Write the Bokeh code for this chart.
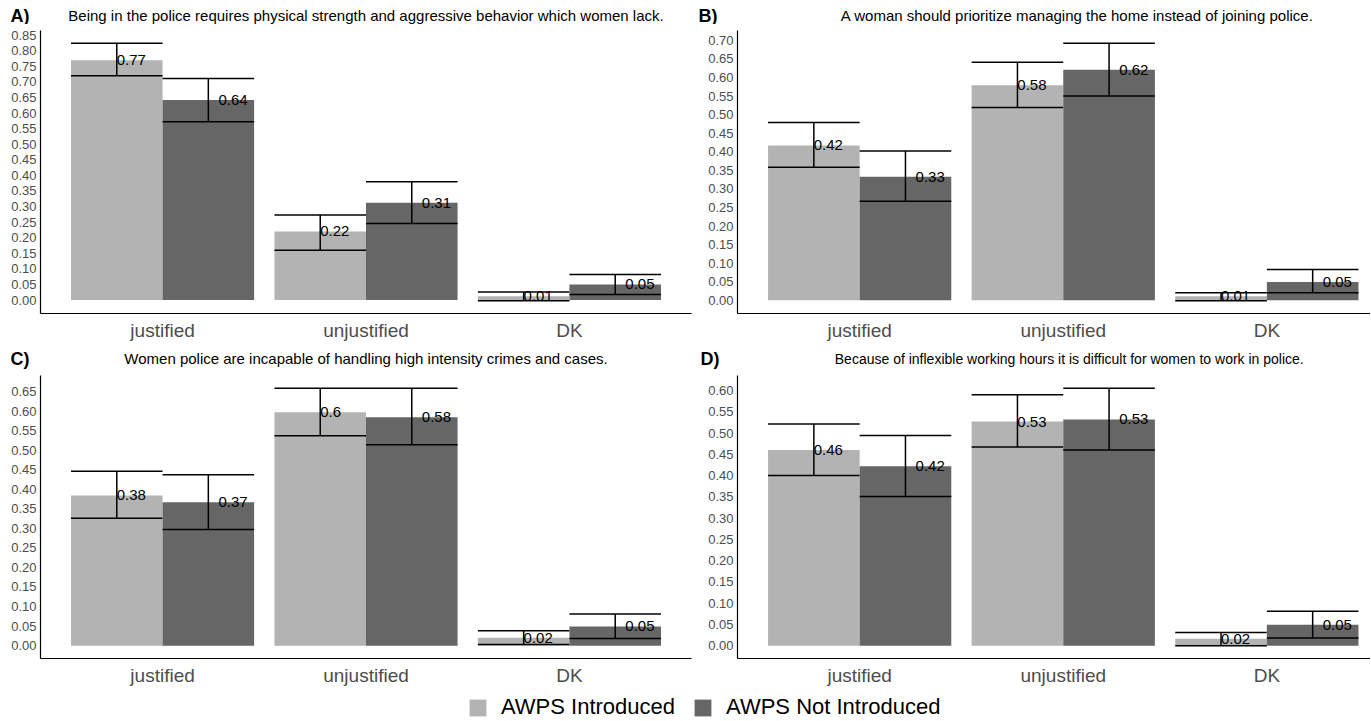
import numpy as np
from bokeh.plotting import figure
from bokeh.models import (Range1d, FixedTicker, PrintfTickFormatter, Label,
                          ColumnDataSource, Legend, LegendItem)
from bokeh.core.properties import value
from bokeh.transform import dodge
from bokeh.layouts import column, row
from bokeh.embed import file_html
from bokeh.resources import INLINE

# ---------------- data ----------------
categories = ["justified", "unjustified", "DK"]
groups = ["AWPS Introduced", "AWPS Not Introduced"]

tags = ["A)", "B)", "C)", "D)"]
subtitles = [
    "Being in the police requires physical strength and aggressive behavior which women lack.",
    "A woman should prioritize managing the home instead of joining police.",
    "Women police are incapable of handling high intensity crimes and cases.",
    "Because of inflexible working hours it is difficult for women to work in police.",
]

# panel A
a_intro    = [0.770, 0.220, 0.012]
a_intro_lo = [0.720, 0.160, -0.002]
a_intro_hi = [0.824, 0.273, 0.026]
a_not      = [0.642, 0.312, 0.050]
a_not_lo   = [0.572, 0.246, 0.018]
a_not_hi   = [0.711, 0.380, 0.082]
# panel B
b_intro    = [0.417, 0.579, 0.011]
b_intro_lo = [0.358, 0.519, -0.001]
b_intro_hi = [0.479, 0.641, 0.020]
b_not      = [0.333, 0.621, 0.049]
b_not_lo   = [0.267, 0.550, 0.020]
b_not_hi   = [0.402, 0.692, 0.083]
# panel C
c_intro    = [0.384, 0.597, 0.020]
c_intro_lo = [0.326, 0.537, 0.003]
c_intro_hi = [0.446, 0.658, 0.038]
c_not      = [0.367, 0.584, 0.049]
c_not_lo   = [0.297, 0.514, 0.018]
c_not_hi   = [0.437, 0.658, 0.081]
# panel D
d_intro    = [0.460, 0.527, 0.016]
d_intro_lo = [0.400, 0.467, 0.000]
d_intro_hi = [0.521, 0.590, 0.031]
d_not      = [0.422, 0.532, 0.049]
d_not_lo   = [0.351, 0.460, 0.018]
d_not_hi   = [0.494, 0.605, 0.081]

# ---------------- style ----------------
FONT = "Liberation Sans"
FONT_VALUE = value(FONT)
LIGHT = "#B3B3B3"
DARK = "#666666"
AXIS_TXT = "#4D4D4D"
X_START = 0.4


def rlabel(v):
    return str(round(v, 2))


def make_panel(series, width, x_end, mb_left, mb_right, height, mb_top, mb_bottom):
    allv = [0.0]
    for vals, lo, hi in series:
        allv += list(lo) + list(hi) + list(vals)
    ymin, ymax = min(allv), max(allv)
    pad = 0.05 * (ymax - ymin)
    y0, y1 = ymin - pad, ymax + pad

    p = figure(width=width, height=height, output_backend="svg",
               toolbar_location=None,
               x_range=Range1d(X_START, x_end), y_range=Range1d(y0, y1),
               min_border_left=mb_left, min_border_right=mb_right,
               min_border_top=mb_top, min_border_bottom=mb_bottom)
    p.outline_line_color = None
    p.xgrid.visible = False
    p.ygrid.visible = False

    xi = list(range(1, len(categories) + 1))
    offsets = [-0.225, 0.225]
    text_offsets = [-0.25, 0.25]
    colors = [LIGHT, DARK]
    for (vals, lo, hi), off, toff, col in zip(series, offsets, text_offsets, colors):
        src = ColumnDataSource(dict(xi=xi, val=vals, lo=lo, hi=hi,
                                    lab=[rlabel(v) for v in vals]))
        p.vbar(x=dodge("xi", off), top="val", bottom=0, width=0.45,
               source=src, fill_color=col, line_color=None)
        p.segment(x0=dodge("xi", off), x1=dodge("xi", off), y0="lo", y1="hi",
                  source=src, line_color="black", line_width=1.5)
        p.segment(x0=dodge("xi", off - 0.225), x1=dodge("xi", off + 0.225),
                  y0="hi", y1="hi", source=src, line_color="black", line_width=1.5)
        p.segment(x0=dodge("xi", off - 0.225), x1=dodge("xi", off + 0.225),
                  y0="lo", y1="lo", source=src, line_color="black", line_width=1.5)
        p.text(x=dodge("xi", toff), y="val", text="lab", source=src,
               x_offset=5, text_align="left", text_baseline="alphabetic",
               text_font=FONT_VALUE, text_font_size="15px", text_color="black")

    p.xaxis.ticker = FixedTicker(ticks=xi)
    p.xaxis.major_label_overrides = {i: c for i, c in zip(xi, categories)}
    p.xaxis.major_label_text_font = FONT
    p.xaxis.major_label_text_font_size = "19px"
    p.xaxis.major_label_text_color = AXIS_TXT
    p.xaxis.major_label_standoff = 6

    yt = [round(t, 2) for t in np.arange(0, y1, 0.05) if t <= y1]
    p.yaxis.ticker = FixedTicker(ticks=yt)
    p.yaxis.formatter = PrintfTickFormatter(format="%.2f")
    p.yaxis.major_label_text_font = FONT
    p.yaxis.major_label_text_font_size = "13px"
    p.yaxis.major_label_text_color = AXIS_TXT
    p.yaxis.major_label_standoff = 4

    for ax in (p.xaxis, p.yaxis):
        ax.major_tick_line_color = None
        ax.minor_tick_line_color = None
        ax.major_tick_out = 0
        ax.major_tick_in = 0
        ax.axis_line_color = "black"
        ax.axis_line_width = 1.2
    return p


def make_strip(tag, subtitle, width, height, x_end, mb_left, mb_right,
               tag_x, text_y, sub_dx, sub_size="15px"):
    s = figure(width=width, height=height, output_backend="svg",
               toolbar_location=None,
               x_range=Range1d(0, width), y_range=Range1d(0, height),
               x_axis_location=None, y_axis_location=None,
               min_border_left=0, min_border_right=0,
               min_border_top=0, min_border_bottom=0)
    s.outline_line_color = None
    s.grid.visible = False
    scale = (width - mb_left - mb_right) / (x_end - X_START)
    centre = mb_left + (2.0 - X_START) * scale + sub_dx
    s.add_layout(Label(x=tag_x, y=height - text_y, text=tag,
                       text_font=FONT, text_font_style="bold",
                       text_font_size="18px", text_baseline="middle",
                       text_align="left", text_color="black"))
    s.add_layout(Label(x=centre, y=height - text_y, text=subtitle,
                       text_font=FONT, text_font_size=sub_size,
                       text_baseline="middle", text_align="center",
                       text_color="black"))
    return s


WA, WB = 697, 673
X_END_LEFT = 3.6
X_END_RIGHT = X_START + (WB - 40) / 203.6

H1, H2 = 321, 323
S1, S2 = 24, 24

sA = make_strip(tags[0], subtitles[0], WA, S1, X_END_LEFT, 40, 6, 10, 15, 0)
sB = make_strip(tags[1], subtitles[1], WB, S1, X_END_RIGHT, 40, 0, 1, 15, 14)
sC = make_strip(tags[2], subtitles[2], WA, S2, X_END_LEFT, 40, 6, 10, 13, 0)
sD = make_strip(tags[3], subtitles[3], WB, S2, X_END_RIGHT, 40, 0, 3, 13, 6,
                sub_size="14px")

pA = make_panel([(a_intro, a_intro_lo, a_intro_hi), (a_not, a_not_lo, a_not_hi)],
                WA, X_END_LEFT, 40, 6, H1, 6, 32)
pB = make_panel([(b_intro, b_intro_lo, b_intro_hi), (b_not, b_not_lo, b_not_hi)],
                WB, X_END_RIGHT, 40, 0, H1, 6, 32)
pC = make_panel([(c_intro, c_intro_lo, c_intro_hi), (c_not, c_not_lo, c_not_hi)],
                WA, X_END_LEFT, 40, 6, H2, 6, 34)
pD = make_panel([(d_intro, d_intro_lo, d_intro_hi), (d_not, d_not_lo, d_not_hi)],
                WB, X_END_RIGHT, 40, 0, H2, 6, 34)

# legend strip
lf = figure(width=WA + WB, height=28, output_backend="svg", toolbar_location=None,
            x_range=Range1d(0, 1), y_range=Range1d(0, 1),
            x_axis_location=None, y_axis_location=None,
            min_border_left=0, min_border_right=0,
            min_border_top=0, min_border_bottom=0)
lf.outline_line_color = None
lf.grid.visible = False
r1 = lf.vbar(x=[5], top=[1], width=0.1, fill_color=LIGHT, line_color=None)
r2 = lf.vbar(x=[5], top=[1], width=0.1, fill_color=DARK, line_color=None)
leg = Legend(items=[LegendItem(label=groups[0], renderers=[r1]),
                    LegendItem(label=groups[1], renderers=[r2])],
             orientation="horizontal", location=(467, 0),
             glyph_width=21, glyph_height=21, label_standoff=13, spacing=17,
             padding=0, margin=0, border_line_color=None,
             background_fill_alpha=0, label_text_font=FONT,
             label_text_font_size="22px", label_height=21,
             label_text_color="black", label_text_baseline="middle")
lf.add_layout(leg)

layout = column(row(sA, sB), row(pA, pB), row(sC, sD), row(pC, pD), lf)
open("out.html", "w").write(file_html(layout, INLINE))
